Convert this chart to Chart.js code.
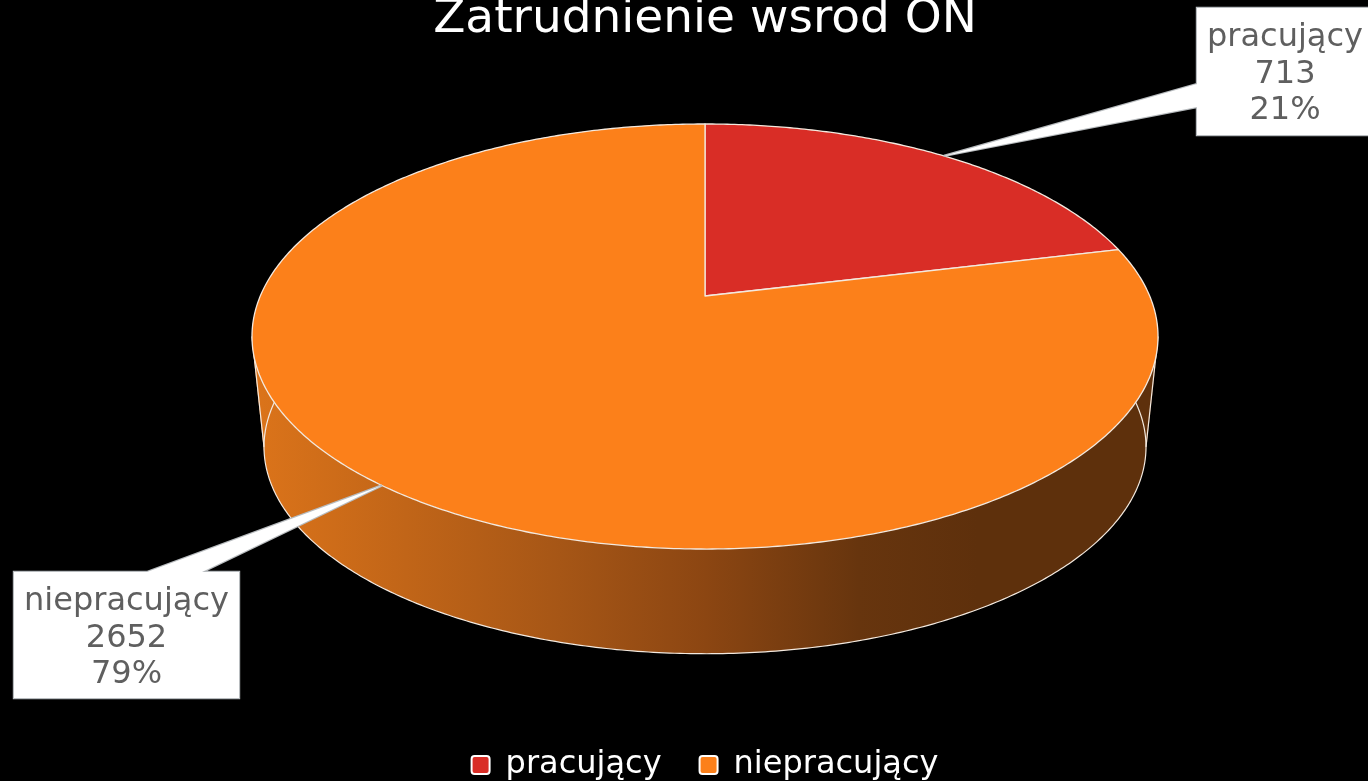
<!DOCTYPE html>
<html>
<head>
<meta charset="utf-8">
<script src="https://cdn.jsdelivr.net/npm/chart.js@4.4.1/dist/chart.umd.min.js"></script>
<style>
  html, body { margin: 0; padding: 0; background: #000; }
  #wrap { width: 1368px; height: 781px; position: relative; }
</style>
</head>
<body>
<div id="wrap"><canvas id="pieChart"></canvas></div>
<script>
const labels = ["pracujący", "niepracujący"];
const counts = [713, 2652];
const sliceColors = ["#d92d26", "#fc801a"];

const FONT = "'DejaVu Sans', sans-serif";
const edgeColor = "#f3e9df";

// widok 3D: srodek, polosie, perspektywa, zbieganie scian w dol
const view = { cx: 705, cy: 296, rx: 444.7, ry: 204.8, k: 0.1906, vx: 705, vy: 4500, s: 0.9735 };

// ramki z etykietami
const callouts = [
  { box: [1197, 8, 176, 127], base: [[1197, 84], [1197, 107]] },
  { box: [14, 572, 225, 126], base: [[147, 572], [202, 572]] }
];

function proj(a, bottom) {
  const u = Math.cos(a), v = -Math.sin(a);
  const w = 1 + view.k * v;
  let x = view.cx + view.rx * u / w;
  let y = view.cy - view.ry * v / w;
  if (bottom) {
    x = view.vx + (x - view.vx) * view.s;
    y = view.vy + (y - view.vy) * view.s;
  }
  return [x, y];
}

function steps(a0, a1) {
  return Math.max(8, Math.ceil((a1 - a0) / 0.01));
}

function area(pts) {
  let s = 0;
  for (let i = 0; i < pts.length; i++) {
    const a = pts[i], b = pts[(i + 1) % pts.length];
    s += a[0] * b[1] - b[0] * a[1];
  }
  return s;
}

const pie3d = {
  id: "pie3d",
  beforeDatasetsDraw(chart) {
    const ctx = chart.ctx;
    const arcs = chart.getDatasetMeta(0).data;
    const bg = chart.data.datasets[0].backgroundColor;
    ctx.save();

    const grad = ctx.createLinearGradient(view.cx - view.rx * 1.02, 0, view.cx + view.rx * 1.02, 0);
    grad.addColorStop(0, "#dc741a");
    grad.addColorStop(0.34, "#a65616");
    grad.addColorStop(0.5, "#8c4612");
    grad.addColorStop(0.67, "#67350e");
    grad.addColorStop(0.8, "#5e300c");
    grad.addColorStop(1, "#5e300c");

    // sciany boczne
    arcs.forEach(arc => {
      const a0 = arc.startAngle, a1 = arc.endAngle, n = steps(a0, a1);
      ctx.beginPath();
      for (let i = 0; i < n; i++) {
        const t0 = a0 + (a1 - a0) * i / n, t1 = a0 + (a1 - a0) * (i + 1) / n;
        let quad = [proj(t0, false), proj(t1, false), proj(t1, true), proj(t0, true)];
        if (area(quad) < 0) quad = quad.reverse();
        ctx.moveTo(quad[0][0], quad[0][1]);
        for (let j = 1; j < 4; j++) ctx.lineTo(quad[j][0], quad[j][1]);
        ctx.closePath();
      }
      ctx.fillStyle = grad;
      ctx.fill("nonzero");

      ctx.beginPath();
      for (let i = 0; i <= n; i++) {
        const p = proj(a0 + (a1 - a0) * i / n, true);
        if (i === 0) ctx.moveTo(p[0], p[1]); else ctx.lineTo(p[0], p[1]);
      }
      ctx.strokeStyle = edgeColor;
      ctx.lineWidth = 1.2;
      ctx.stroke();
    });

    // krawedzie boczne (sylwetka)
    [Math.asin(view.k), Math.PI - Math.asin(view.k)].forEach(a => {
      const p = proj(a, false), q = proj(a, true);
      ctx.beginPath();
      ctx.moveTo(p[0], p[1]);
      ctx.lineTo(q[0], q[1]);
      ctx.strokeStyle = edgeColor;
      ctx.lineWidth = 1.2;
      ctx.stroke();
    });

    // gorne powierzchnie
    arcs.forEach((arc, i) => {
      const a0 = arc.startAngle, a1 = arc.endAngle, n = steps(a0, a1);
      ctx.beginPath();
      ctx.moveTo(view.cx, view.cy);
      for (let j = 0; j <= n; j++) {
        const p = proj(a0 + (a1 - a0) * j / n, false);
        ctx.lineTo(p[0], p[1]);
      }
      ctx.closePath();
      ctx.fillStyle = bg[i];
      ctx.fill();
      ctx.strokeStyle = edgeColor;
      ctx.lineWidth = 1.3;
      ctx.lineJoin = "round";
      ctx.stroke();
    });

    ctx.restore();
    return false;
  },
  afterDraw(chart) {
    const ctx = chart.ctx;
    const arcs = chart.getDatasetMeta(0).data;
    const total = counts.reduce((a, b) => a + b, 0);
    ctx.save();
    arcs.forEach((arc, i) => {
      const c = callouts[i];
      const tip = proj((arc.startAngle + arc.endAngle) / 2, false);
      const [bx, by, bw, bh] = c.box;

      const shape = () => {
        ctx.beginPath();
        ctx.rect(bx, by, bw, bh);
        ctx.moveTo(tip[0], tip[1]);
        ctx.lineTo(c.base[0][0], c.base[0][1]);
        ctx.lineTo(c.base[1][0], c.base[1][1]);
        ctx.closePath();
      };
      shape();
      ctx.strokeStyle = "#b8bcbf";
      ctx.lineWidth = 2.4;
      ctx.lineJoin = "miter";
      ctx.stroke();
      shape();
      ctx.fillStyle = "#ffffff";
      ctx.fill("nonzero");

      const lines = [labels[i], String(counts[i]), Math.round(counts[i] / total * 100) + "%"];
      ctx.fillStyle = "#5f5f5f";
      ctx.font = "32px " + FONT;
      ctx.textAlign = "center";
      ctx.textBaseline = "middle";
      const tx = bx + bw / 2;
      lines.forEach((t, j) => ctx.fillText(t, tx, by + 30 + j * 36.5));
    });
    ctx.restore();
  }
};

const ctx = document.getElementById("pieChart").getContext("2d");
new Chart(ctx, {
  type: "pie",
  data: {
    labels: labels,
    datasets: [{
      data: counts,
      backgroundColor: sliceColors,
      borderColor: "#ffffff",
      borderWidth: 2
    }]
  },
  options: {
    responsive: true,
    maintainAspectRatio: false,
    animation: false,
    layout: { padding: { left: 42, bottom: -10 } },
    plugins: {
      title: {
        display: true,
        text: "Zatrudnienie wsrod ON",
        color: "#ffffff",
        font: { family: FONT, size: 47, weight: "normal" },
        padding: { top: -8, bottom: 0 }
      },
      legend: {
        position: "bottom",
        labels: {
          color: "#ffffff",
          font: { family: FONT, size: 32, weight: "normal" },
          boxWidth: 18,
          boxHeight: 18,
          padding: 38,
          useBorderRadius: true,
          borderRadius: 3
        }
      },
      tooltip: { enabled: false }
    }
  },
  plugins: [pie3d]
});
</script>
</body>
</html>
